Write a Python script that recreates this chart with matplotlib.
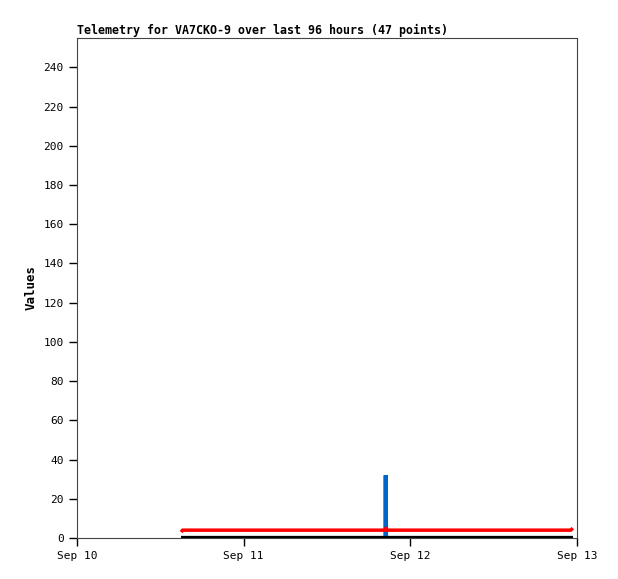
import datetime as dt
import matplotlib
matplotlib.use("Agg")
import matplotlib.pyplot as plt
import matplotlib.dates as mdates

# hours after Sep 10 00:00 for the 47 telemetry packets
hours = [15.0, 15.2, 16.6, 17.9, 19.1, 20.4, 21.7, 23.0, 24.3, 25.5,
         26.8, 28.1, 29.4, 30.6, 31.9, 33.2, 34.5, 35.7, 37.0, 38.3,
         39.6, 40.8, 42.1, 44.42, 44.46, 44.5, 45.7, 46.9, 48.1, 49.4,
         50.6, 51.8, 53.1, 54.3, 55.5, 56.7, 58.0, 59.2, 60.4, 61.6,
         62.9, 64.1, 65.3, 66.6, 67.8, 71.1, 71.4]
ch_black = [0] * 47
ch_blue = [0] * 24 + [32, 0] + [0] * 21
ch_red = [3] + [4] * 23 + [5, 4] + [4] * 20 + [5]

t0 = dt.datetime(2023, 9, 10)
times = [t0 + dt.timedelta(hours=h) for h in hours]

plt.rcParams["font.family"] = ["DejaVu Sans Mono"]

fig = plt.figure(figsize=(6.18, 5.79), dpi=100)
ax = fig.add_axes([77 / 618, 41 / 579, 500 / 618, 500 / 579])

ax.plot(times, ch_blue, color="#0066cc", lw=3, zorder=2,
        solid_capstyle="butt", solid_joinstyle="miter")
ax.plot(times, ch_red, color="#ff0000", lw=2.5, zorder=3,
        solid_capstyle="butt")
ax.plot(times, ch_black, color="black", lw=3, zorder=4,
        solid_capstyle="butt")

ax.set_xlim(t0, t0 + dt.timedelta(days=3))
ax.set_ylim(0, 255)
ax.set_yticks(range(0, 241, 20))
ax.xaxis.set_major_locator(mdates.DayLocator())
ax.xaxis.set_major_formatter(mdates.DateFormatter("%b %d"))

ax.tick_params(labelsize=8, length=6, width=1, direction="out")
ax.set_ylabel("Values", fontsize=9, fontweight="bold")
ax.set_title("Telemetry for VA7CKO-9 over last 96 hours (47 points)",
             fontsize=8.4, fontweight="bold", loc="left", pad=3)
for s in ax.spines.values():
    s.set_color("#444444")

fig.savefig("out.png", dpi=100)
